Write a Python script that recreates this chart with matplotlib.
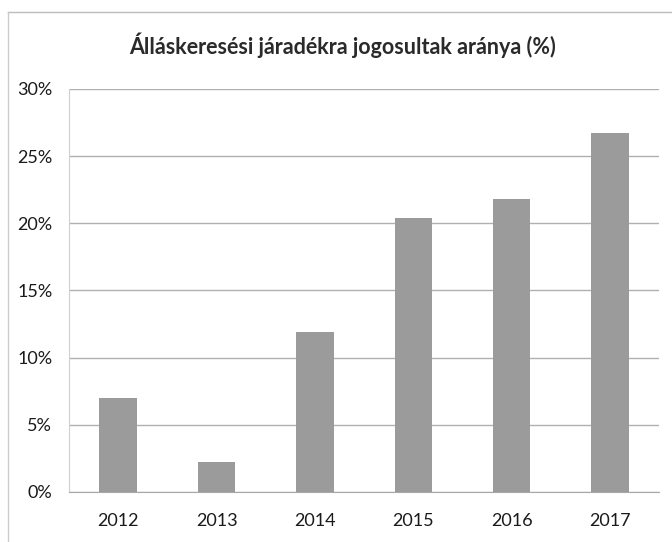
import matplotlib.pyplot as plt
from matplotlib.ticker import PercentFormatter

plt.rcParams['font.family'] = ['Lato', 'DejaVu Sans']

# Adatok
evek = ['2012', '2013', '2014', '2015', '2016', '2017']
arany = [0.070, 0.022, 0.119, 0.204, 0.218, 0.267]
y_ticks = [0.0, 0.05, 0.10, 0.15, 0.20, 0.25, 0.30]

fig = plt.figure(figsize=(6.72, 5.42), dpi=100)
ax = fig.add_axes([0.1027, 0.0923, 0.878, 0.7435])

ax.bar(evek, arany, width=0.38, color='#9b9b9b', zorder=2)

ax.set_ylim(0, 0.30)
ax.set_xlim(-0.5, len(evek) - 0.5)
ax.set_yticks(y_ticks)
ax.yaxis.set_major_formatter(PercentFormatter(1.0, decimals=0))
ax.grid(axis='y', color='#b0b0b0', linewidth=1.0, zorder=0)

for side in ['top', 'right']:
    ax.spines[side].set_visible(False)
ax.spines['left'].set_color('#cfcfcf')
ax.spines['bottom'].set_color('#a8a8a8')
ax.tick_params(axis='y', length=0, pad=12, labelsize=13, labelcolor='#1a1a1a')
ax.tick_params(axis='x', length=0, pad=15, labelsize=13, labelcolor='#1a1a1a')

fig.text(0.51, 0.917, 'Álláskeresési járadékra jogosultak aránya (%)',
         ha='center', va='center', fontsize=15.5, fontweight='bold', color='#2a2a2a')

# keret
fig.add_artist(plt.Line2D([0.012, 1.0], [0.978, 0.978], color='#bbbbbb', linewidth=1))
fig.add_artist(plt.Line2D([0.012, 0.012], [0.0, 0.978], color='#cccccc', linewidth=1))

fig.savefig('out.png', dpi=100)
